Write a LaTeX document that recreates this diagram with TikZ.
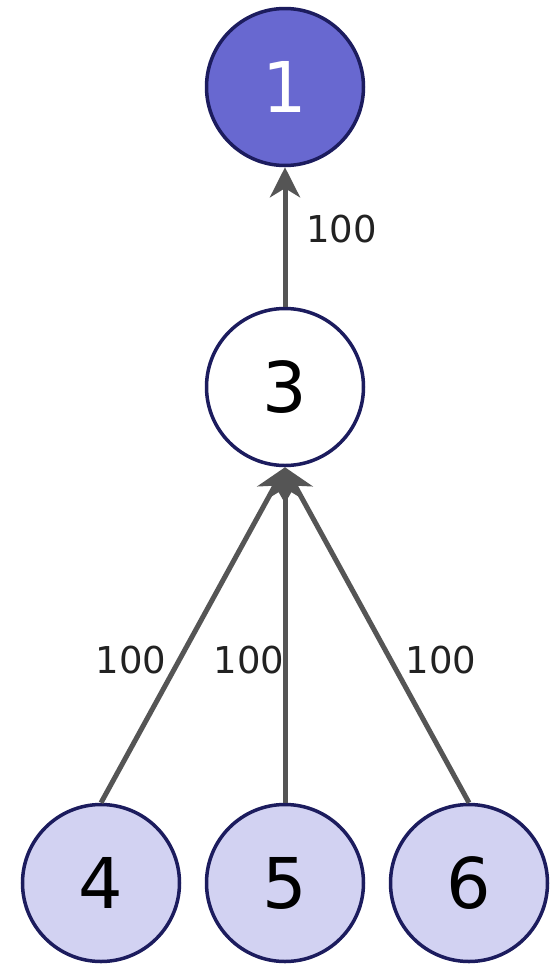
\documentclass[tikz,border=0pt]{standalone}
\usepackage{fontspec}
\setmainfont{DejaVu Sans}
\usetikzlibrary{arrows.meta}
\definecolor{navy}{HTML}{1C1C5E}
\definecolor{rootfill}{HTML}{6868D0}
\definecolor{leaffill}{HTML}{D2D2F2}
\definecolor{edgegray}{HTML}{555555}
\definecolor{labelgray}{HTML}{222222}
\tikzset{
  vertex/.style={circle, draw=navy, line width=3.5pt, minimum size=157pt, inner sep=0pt,
    font=\fontsize{70}{70}\selectfont, text=black},
  edgearrow/.style={draw=edgegray, line width=5pt,
    -{Stealth[length=30pt, width=30pt, inset=9pt]}},
  weight/.style={font=\fontsize{37}{37}\selectfont, text=labelgray, inner sep=0pt}
}
\begin{document}
\begin{tikzpicture}[x=1pt,y=-1pt]
\useasboundingbox[fill=white] (0,0) rectangle (553,967);
\node[vertex, fill=rootfill, text=white] (n1) at (285,87) {1};
\node[vertex, fill=white] (n3) at (285,387) {3};
\node[vertex, fill=leaffill] (n4) at (101,883) {4};
\node[vertex, fill=leaffill] (n5) at (285,883) {5};
\node[vertex, fill=leaffill] (n6) at (469,883) {6};
\draw[edgearrow] (n3.north) -- (n1.south);
\draw[edgearrow] (n4.north) -- (n3.south);
\draw[edgearrow] (n5.north) -- (n3.south);
\draw[edgearrow] (n6.north) -- (n3.south);
\node[weight, anchor=west] (w31) at (306,229) {100};
\node[weight] (w43) at (131,660) {100};
\node[weight] (w53) at (249,660) {100};
\node[weight] (w63) at (441,660) {100};
\end{tikzpicture}
\end{document}
